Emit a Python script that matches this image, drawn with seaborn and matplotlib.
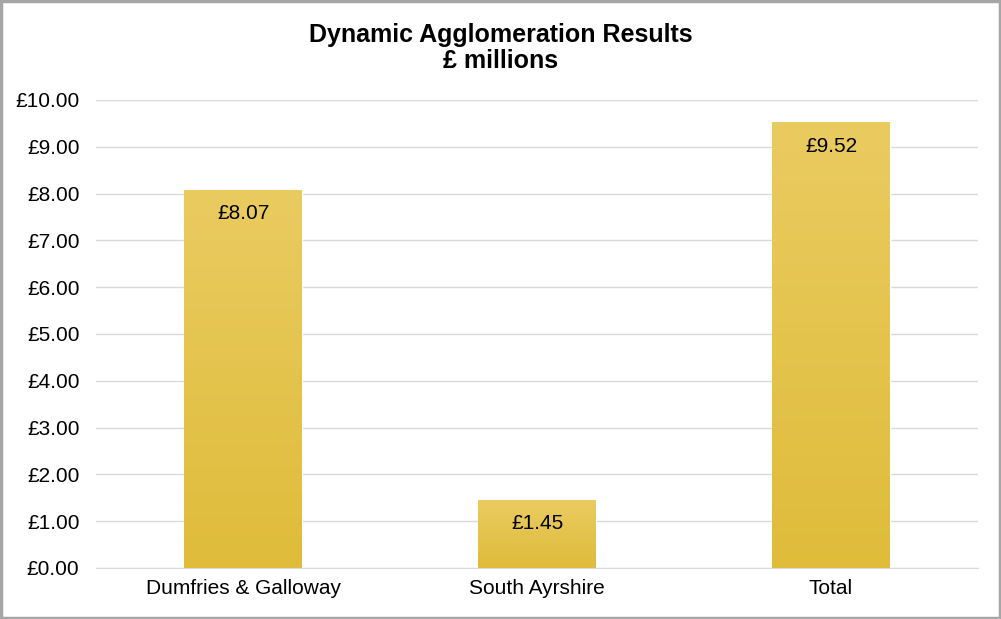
import matplotlib.pyplot as plt
import matplotlib.patches as mpatches
from matplotlib.colors import LinearSegmentedColormap
import seaborn as sns
import numpy as np
import pandas as pd

# 数据
regions = ['Dumfries & Galloway', 'South Ayrshire', 'Total']
values = [8.07, 1.45, 9.52]
y_ticks = [0, 1, 2, 3, 4, 5, 6, 7, 8, 9, 10]

df = pd.DataFrame({'region': regions, 'value': values})

sns.set_style('white')
plt.rcParams['font.family'] = ['Liberation Sans', 'DejaVu Sans']

fig = plt.figure(figsize=(10.01, 6.19), dpi=100)
ax = fig.add_axes([0.096, 0.0824, 0.881, 0.7561])

sns.barplot(data=df, x='region', y='value', color='#E4C24A', width=0.4,
            saturation=1, ax=ax, zorder=2)

# 柱子渐变
grad = np.linspace(0, 1, 256).reshape(-1, 1)
cmap = LinearSegmentedColormap.from_list('gold', ['#DFBC3A', '#EACB60'])
for p in ax.patches:
    x0, y0 = p.get_x(), p.get_y()
    w, h = p.get_width(), p.get_height()
    im = ax.imshow(grad, extent=[x0, x0 + w, y0, y0 + h], origin='lower',
                   aspect='auto', cmap=cmap, zorder=3)
    im.set_clip_path(p)

ax.set_xlim(-0.5, 2.5)
ax.set_ylim(0, 10)
ax.set_yticks(y_ticks)
ax.set_yticklabels([f'£{v:.2f}' for v in y_ticks], fontsize=15, color='black')
ax.tick_params(axis='x', labelsize=15, labelcolor='black', length=0, pad=8)
ax.tick_params(axis='y', length=0, pad=12)
ax.set_xlabel('')
ax.set_ylabel('')
ax.yaxis.grid(True, color='#D9D9D9', linewidth=1, zorder=0)
ax.set_axisbelow(True)
for s in ['top', 'right', 'left']:
    ax.spines[s].set_visible(False)
ax.spines['bottom'].set_color('#D9D9D9')

# 数据标签
for i, v in enumerate(values):
    ax.annotate(f'£{v:.2f}', (i, v), xytext=(0, -17), textcoords='offset points',
                ha='center', va='center', fontsize=15, color='black', zorder=5)

fig.text(0.5, 0.9225, 'Dynamic Agglomeration Results\n£ millions', ha='center',
         va='center', fontsize=18, fontweight='bold', color='black',
         linespacing=1.15)

# 外框
fig.patches.append(mpatches.Rectangle((0.001, 0.001), 0.998, 0.997,
                   transform=fig.transFigure, fill=False,
                   edgecolor='#A6A6A6', linewidth=2.5))

fig.savefig('out.png', dpi=100)
